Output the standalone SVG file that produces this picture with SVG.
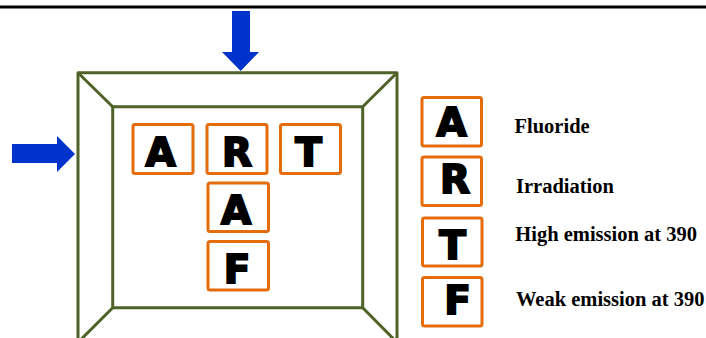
<svg xmlns="http://www.w3.org/2000/svg" width="706" height="338" viewBox="0 0 706 338">
<style>
.box{fill:#fff;stroke:#e46c0a;stroke-width:3}
.frame{fill:none;stroke:#4f6228;stroke-width:3;stroke-linejoin:round}
.let{font-family:"DejaVu Sans",sans-serif;font-weight:bold;font-size:39px;fill:#000;stroke:#000;stroke-width:2;text-anchor:middle}
.lab{font-family:"Liberation Serif",serif;font-weight:bold;font-size:20.5px;fill:#000}
.arr{fill:#0033cc}
</style>
<rect width="706" height="338" fill="#fff"/>
<line x1="0" y1="7" x2="706" y2="7" stroke="#000" stroke-width="2.8"/>
<g id="chamber">
<rect class="frame" x="78" y="72.7" width="319" height="270"/>
<rect class="frame" x="112.7" y="106.7" width="250" height="201"/>
<path class="frame" d="M78 72.7L112.7 106.7M397 72.7L362.7 106.7M112.7 307.7L78 342.4M362.7 307.7L397 342.4"/>
</g>
<g id="connectors">
<polygon class="arr" points="232,11 250,11 250,52 259,52 240.7,71 222,52 232,52"/>
<polygon class="arr" points="12,144 57,144 57,136 75,154 57,172 57,163 12,163"/>
</g>
<g id="box-A1"><rect class="box" x="133" y="124.5" width="60" height="49" rx="2"/><text class="let" x="160.5" y="165.7">A</text></g>
<g id="box-R1"><rect class="box" x="207" y="124.5" width="60" height="49" rx="2"/><text class="let" x="237" y="165.7">R</text></g>
<g id="box-T1"><rect class="box" x="280.5" y="124.5" width="60" height="49" rx="2"/><text class="let" x="308.5" y="165.7">T</text></g>
<g id="box-A2"><rect class="box" x="208" y="183" width="60.5" height="48.5" rx="2"/><text class="let" x="236" y="224">A</text></g>
<g id="box-F1"><rect class="box" x="208" y="241.5" width="60.5" height="48.5" rx="2"/><text class="let" x="237" y="283">F</text></g>
<g id="legend-A"><rect class="box" x="422" y="97.5" width="59.5" height="48.5" rx="2"/><text class="let" x="451.5" y="135.7">A</text><text class="lab" x="514.5" y="132.7">Fluoride</text></g>
<g id="legend-R"><rect class="box" x="422" y="157" width="59.5" height="48.5" rx="2"/><text class="let" x="455" y="193">R</text><text class="lab" x="516" y="192.7">Irradiation</text></g>
<g id="legend-T"><rect class="box" x="422.5" y="218" width="59.5" height="48" rx="2"/><text class="let" x="452.5" y="259">T</text><text class="lab" x="515.3" y="240.7">High emission at 390</text></g>
<g id="legend-F"><rect class="box" x="422.5" y="277.5" width="59.5" height="48.5" rx="2"/><text class="let" x="457.5" y="314">F</text><text class="lab" x="516" y="306">Weak emission at 390</text></g>
</svg>
